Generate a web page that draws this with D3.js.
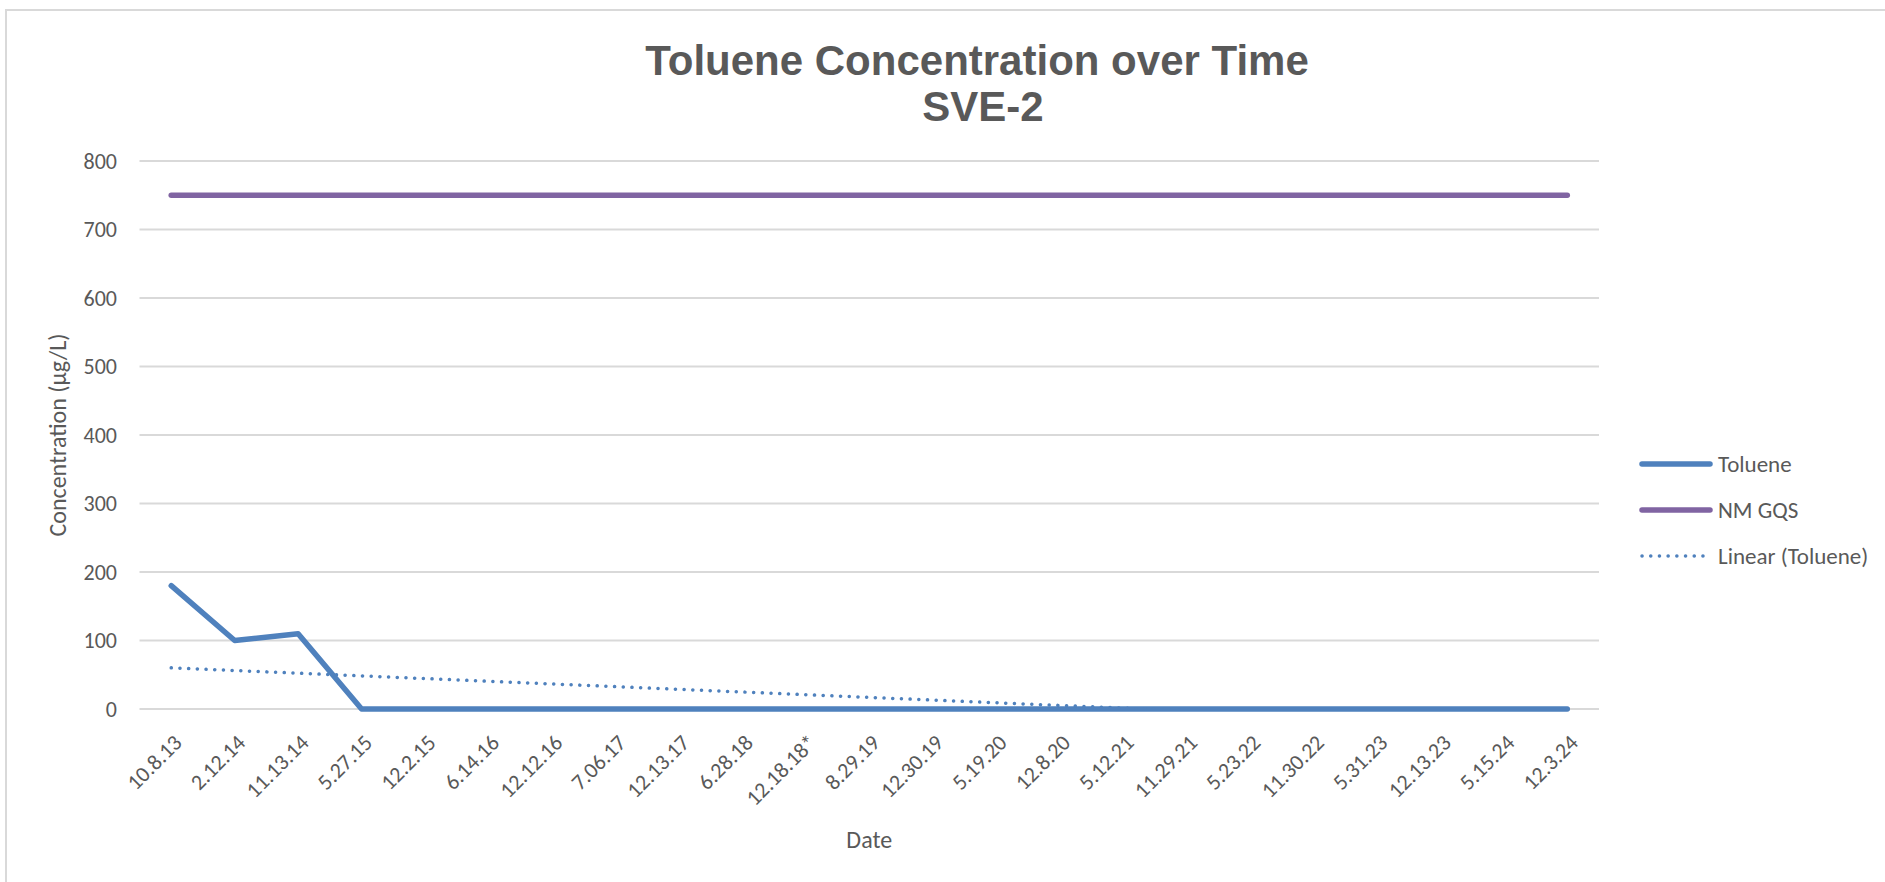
<html>
<head>
  <title>Toluene Concentration over Time</title>
  <script src="https://d3js.org/d3.v7.min.js"></script>
  <style>
    body { margin: 0; background: #fff; overflow: hidden; }
    svg { display: block; }
    text { fill: #595959; }
    .tick-label, .axis-title, .legend-label { font-family: Carlito, Calibri, Lato, sans-serif; }
  </style>
</head>
<body>
  <div id="chart"></div>

  <script type="text/javascript">

    // Sample dates (x categories)
    var dates = ["10.8.13", "2.12.14", "11.13.14", "5.27.15", "12.2.15", "6.14.16", "12.12.16",
                 "7.06.17", "12.13.17", "6.28.18", "12.18.18*", "8.29.19", "12.30.19", "5.19.20",
                 "12.8.20", "5.12.21", "11.29.21", "5.23.22", "11.30.22", "5.31.23", "12.13.23",
                 "5.15.24", "12.3.24"];

    // Toluene results (ug/L)
    var toluene = [180, 100, 110, 0, 0, 0, 0, 0, 0, 0, 0, 0, 0, 0, 0, 0, 0, 0, 0, 0, 0, 0, 0];

    // NM groundwater quality standard
    var gqs = [750, 750, 750, 750, 750, 750, 750, 750, 750, 750, 750, 750, 750, 750, 750, 750,
               750, 750, 750, 750, 750, 750, 750];

    var yTicks = [0, 100, 200, 300, 400, 500, 600, 700, 800];

    var seriesNames = ["Toluene", "NM GQS", "Linear (Toluene)"];

    var W = 1885, H = 882;
    var plotLeft = 139.5, plotRight = 1599, plotTop = 161, plotBottom = 709;
    var blue = "#4f81bd", purple = "#8064a2", grid = "#d9d9d9";

    var svg = d3.select("#chart").append("svg")
        .attr("width", W)
        .attr("height", H);

    // chart area border
    svg.append("rect")
        .attr("x", 6).attr("y", 10)
        .attr("width", W + 20).attr("height", H + 20)
        .attr("fill", "none")
        .attr("stroke", grid)
        .attr("stroke-width", 2);

    var x = d3.scalePoint().domain(dates).range([plotLeft, plotRight]).padding(0.5);
    var y = d3.scaleLinear().domain([0, 800]).range([plotBottom, plotTop]);

    // gridlines + y labels
    svg.selectAll("line.grid")
        .data(yTicks)
      .enter().append("line")
        .attr("class", "grid")
        .attr("x1", plotLeft).attr("x2", plotRight)
        .attr("y1", function(d) { return y(d); })
        .attr("y2", function(d) { return y(d); })
        .attr("stroke", grid)
        .attr("stroke-width", 2);

    svg.selectAll("text.ylab")
        .data(yTicks)
      .enter().append("text")
        .attr("class", "tick-label ylab")
        .attr("x", 117)
        .attr("y", function(d) { return y(d); })
        .attr("dy", "0.35em")
        .attr("text-anchor", "end")
        .style("font-size", "22px")
        .text(function(d) { return d; });

    // x labels, rotated
    svg.selectAll("text.xlab")
        .data(dates)
      .enter().append("text")
        .attr("class", "tick-label xlab")
        .attr("text-anchor", "end")
        .attr("transform", function(d) { return "translate(" + (x(d) + 12) + "," + (plotBottom + 35) + ") rotate(-45)"; })
        .style("font-size", "22px")
        .text(function(d) { return d; });

    // axis titles
    svg.append("text")
        .attr("class", "axis-title")
        .attr("transform", "translate(66," + ((plotTop + plotBottom) / 2) + ") rotate(-90)")
        .attr("text-anchor", "middle")
        .style("font-size", "24px")
        .text("Concentration (µg/L)");

    svg.append("text")
        .attr("class", "axis-title")
        .attr("x", (plotLeft + plotRight) / 2)
        .attr("y", 848)
        .attr("text-anchor", "middle")
        .style("font-size", "24px")
        .text("Date");

    // title
    var title = svg.append("text")
        .attr("text-anchor", "middle")
        .style("font-family", "'Liberation Sans', Arial, sans-serif")
        .style("font-weight", "bold")
        .style("font-size", "42px");
    title.append("tspan").attr("x", 977).attr("y", 75).text("Toluene Concentration over Time");
    title.append("tspan").attr("x", 983).attr("y", 121).text("SVE-2");

    var line = d3.line()
        .x(function(d, i) { return x(dates[i]); })
        .y(function(d) { return y(d); });

    svg.append("path")
        .datum(toluene)
        .attr("d", line)
        .attr("fill", "none")
        .attr("stroke", blue)
        .attr("stroke-width", 5.5)
        .attr("stroke-linejoin", "round")
        .attr("stroke-linecap", "round");

    svg.append("path")
        .datum(gqs)
        .attr("d", line)
        .attr("fill", "none")
        .attr("stroke", purple)
        .attr("stroke-width", 5.5)
        .attr("stroke-linecap", "round");

    // least squares trend of toluene vs sample index (Excel linear trendline)
    var mx = d3.mean(toluene, function(d, i) { return i; });
    var my = d3.mean(toluene);
    var sxy = d3.sum(toluene, function(d, i) { return (i - mx) * (d - my); });
    var sxx = d3.sum(toluene, function(d, i) { return (i - mx) * (i - mx); });
    var slope = sxy / sxx, intercept = my - slope * mx;
    var trend = toluene.map(function(d, i) { return intercept + slope * i; });

    svg.append("clipPath").attr("id", "plot-clip")
      .append("rect")
        .attr("x", 0).attr("y", plotTop - 10)
        .attr("width", W).attr("height", plotBottom - plotTop + 10);

    svg.append("path")
        .datum(trend)
        .attr("d", line)
        .attr("clip-path", "url(#plot-clip)")
        .attr("fill", "none")
        .attr("stroke", blue)
        .attr("stroke-width", 3.5)
        .attr("stroke-linecap", "round")
        .attr("stroke-dasharray", "0.1 8.6");

    // legend
    var legend = svg.selectAll("g.legend")
        .data(seriesNames)
      .enter().append("g")
        .attr("class", "legend")
        .attr("transform", function(d, i) { return "translate(1640," + (464 + i * 46) + ")"; });

    legend.append("line")
        .attr("x1", 2).attr("x2", 70)
        .attr("stroke", function(d, i) { return i == 1 ? purple : blue; })
        .attr("stroke-width", function(d, i) { return i == 2 ? 3.5 : 5.5; })
        .attr("stroke-linecap", "round")
        .attr("stroke-dasharray", function(d, i) { return i == 2 ? "0.1 8.6" : null; });

    legend.append("text")
        .attr("class", "legend-label")
        .attr("x", 78)
        .attr("dy", "0.35em")
        .style("font-size", "23px")
        .text(function(d) { return d; });

  </script>
</body>
</html>
